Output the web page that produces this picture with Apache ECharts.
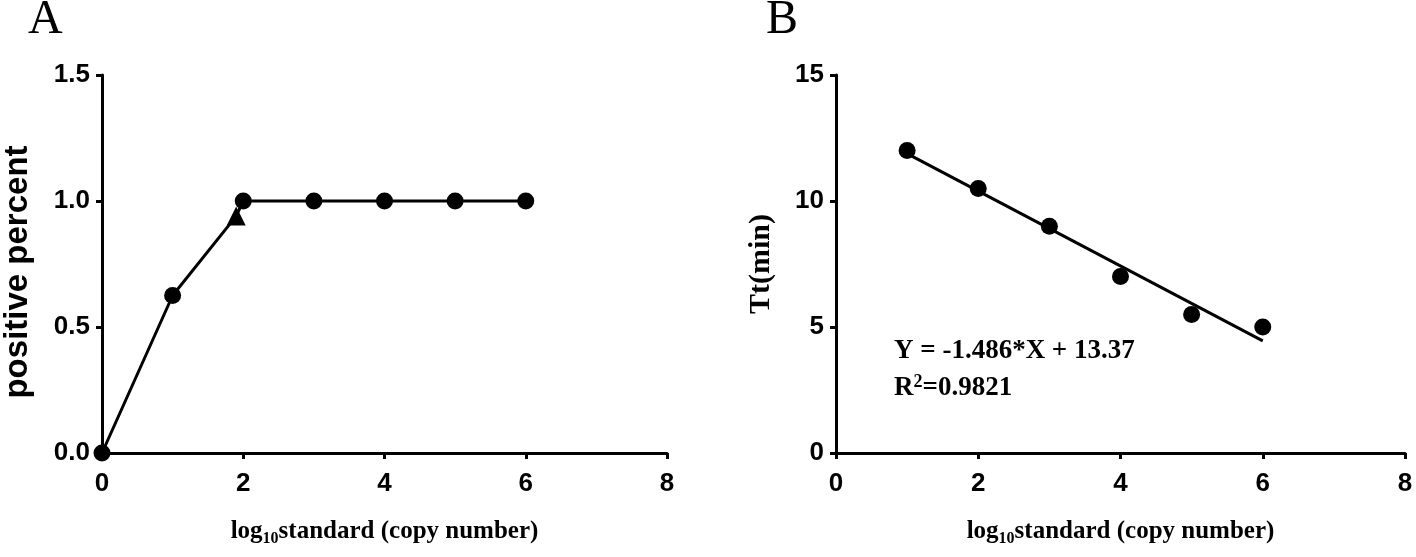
<!DOCTYPE html>
<html><head><meta charset="utf-8">
<script src="https://cdn.jsdelivr.net/npm/echarts@6/dist/echarts.min.js"></script>
<style>html,body{margin:0;padding:0;background:#fff}#c{width:1416px;height:557px}</style>
</head><body><div id="c"></div>
<script>
// Panel A data
const aX = [0, 1, 2, 3, 4, 5, 6];
const aY = [0, 0.625, 1, 1, 1, 1, 1];
const aTriX = [1.9];
const aTriY = [0.94];
const aLineX = [0, 1, 1.9, 2, 3, 4, 5, 6];
const aLineY = [0, 0.625, 0.94, 1, 1, 1, 1, 1];
// Panel B data
const bX = [1, 2, 3, 4, 5, 6];
const bY = [12, 10.5, 9, 7, 5.5, 5];
const fitX = [1, 6];
const fitY = [11.88, 4.45];
const eqText = 'Y = -1.486*X + 13.37';
const r2Value = '=0.9821';

const chart = echarts.init(document.getElementById('c'));
const sansBold = {color:'#000', fontFamily:'"Liberation Sans",Arial', fontWeight:'bold'};
const xTickFont = Object.assign({fontSize:26, margin:18}, sansBold);
const yTickFont = Object.assign({fontSize:26, margin:12}, sansBold);
const axisLine = {show:true, lineStyle:{color:'#000', width:3}};
const axisTick = {show:true, length:6, lineStyle:{color:'#000', width:3}};
const xName = '{a|log}{s|10}{a|standard (copy number)}';
const serifBold = {fontFamily:'"Liberation Serif","Times New Roman",serif', fontWeight:'bold', color:'#000'};
const xNameStyle = {rich:{a:Object.assign({fontSize:25}, serifBold), s:Object.assign({fontSize:16, padding:[14,0,0,0]}, serifBold)}};
function xAxis(gi){
  return {type:'value', gridIndex:gi, min:0, max:8, interval:2, axisLine, axisTick, splitLine:{show:false},
    axisLabel:xTickFont, name:xName, nameLocation:'middle', nameGap:64, nameTextStyle:xNameStyle};
}
const zip = (xs, ys) => xs.map((x,i)=>[x, ys[i]]);
const black = {color:'#000', opacity:1};
chart.setOption({
  animation:false,
  grid:[{left:102, right:749, top:75, bottom:104}, {left:836, right:11, top:75, bottom:104}],
  xAxis:[xAxis(0), xAxis(1)],
  yAxis:[
    {type:'value', gridIndex:0, min:0, max:1.5, interval:0.5, axisLine, axisTick, splitLine:{show:false},
     axisLabel:Object.assign({}, yTickFont, {formatter:v=>v.toFixed(1)}),
     name:'positive percent', nameLocation:'middle', nameGap:68,
     nameTextStyle:Object.assign({fontSize:33, padding:[0,16,0,0]}, sansBold)},
    {type:'value', gridIndex:1, min:0, max:15, interval:5, axisLine, axisTick, splitLine:{show:false},
     axisLabel:yTickFont,
     name:'Tt(min)', nameLocation:'middle', nameGap:60,
     nameTextStyle:Object.assign({fontSize:30}, serifBold)}
  ],
  series:[
    {type:'line', xAxisIndex:0, yAxisIndex:0, data:zip(aLineX, aLineY), showSymbol:false, clip:false,
     lineStyle:{color:'#000', width:3}},
    {type:'scatter', xAxisIndex:0, yAxisIndex:0, data:zip(aX, aY), symbol:'circle', symbolSize:17, clip:false,
     itemStyle:black},
    {type:'scatter', xAxisIndex:0, yAxisIndex:0, data:zip(aTriX, aTriY), symbol:'triangle', symbolSize:19, clip:false,
     itemStyle:black},
    {type:'line', xAxisIndex:1, yAxisIndex:1, data:zip(fitX, fitY), showSymbol:false, clip:false,
     lineStyle:{color:'#000', width:3}},
    {type:'scatter', xAxisIndex:1, yAxisIndex:1, data:zip(bX, bY), symbol:'circle', symbolSize:17, clip:false,
     itemStyle:black}
  ],
  graphic:[
    {type:'text', left:28, top:-4, style:{text:'A', font:'48px "Liberation Serif", serif', fill:'#000'}},
    {type:'text', left:766, top:-4, style:{text:'B', font:'48px "Liberation Serif", serif', fill:'#000'}},
    {type:'text', left:894, top:338, style:{text:eqText, font:'bold 27px "Liberation Serif", serif', fill:'#000'}},
    {type:'text', left:894, top:373, style:{text:'{a|R}{p|2}{a|' + r2Value + '}', rich:{
      a:{font:'bold 27px "Liberation Serif", serif', fill:'#000'},
      p:{font:'bold 18px "Liberation Serif", serif', fill:'#000', padding:[0,0,12,0]}}}}
  ]
});
</script></body></html>
